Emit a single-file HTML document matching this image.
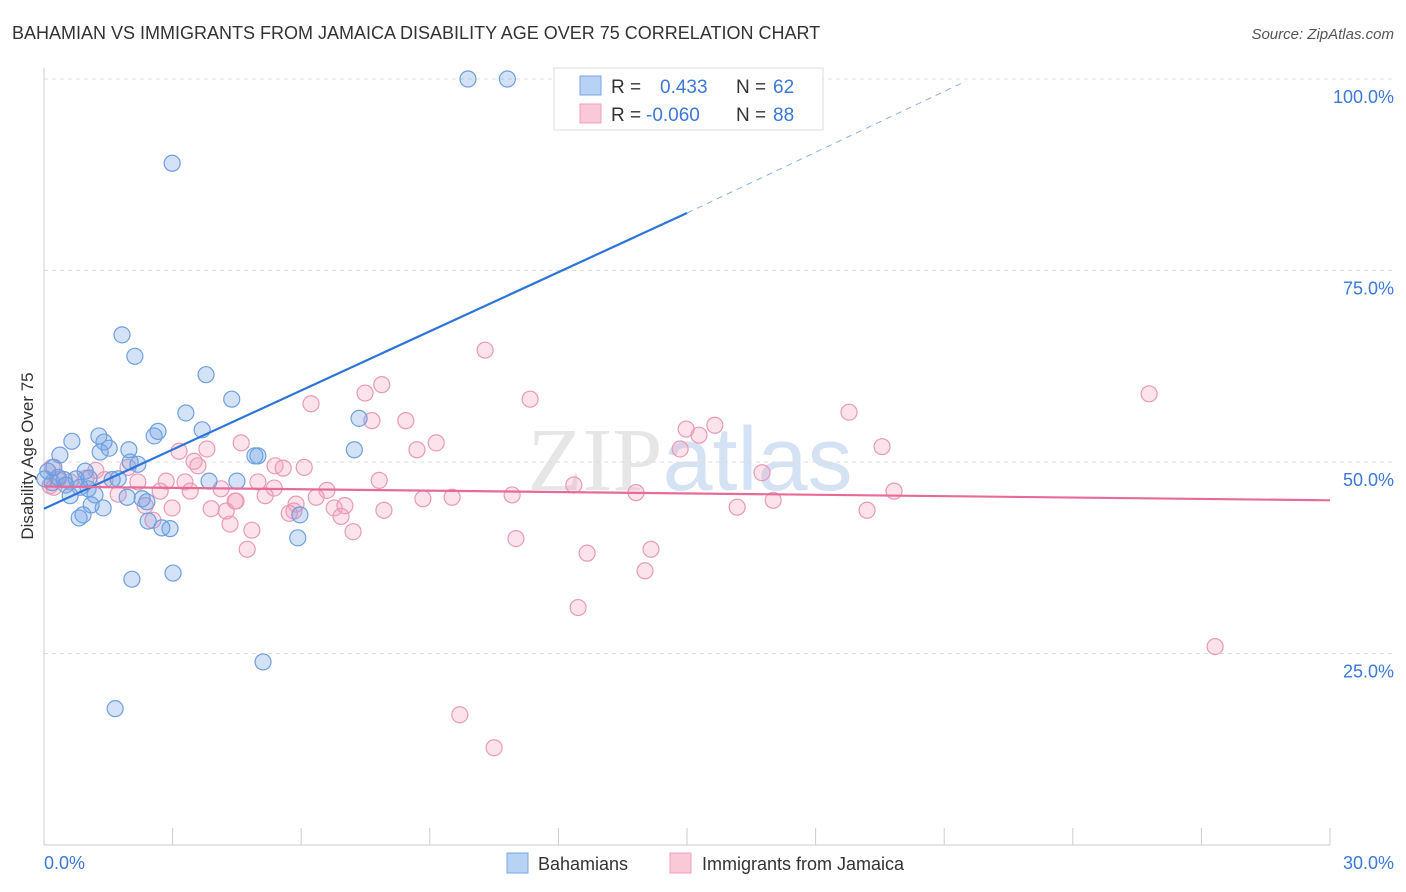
<!DOCTYPE html>
<html><head><meta charset="utf-8"><style>
body{margin:0;background:#fff;font-family:"Liberation Sans",sans-serif;}
svg{display:block}
</style></head><body>
<svg id="c" width="1406" height="892">
<text x="12" y="39" font-size="18" fill="#333">BAHAMIAN VS IMMIGRANTS FROM JAMAICA DISABILITY AGE OVER 75 CORRELATION CHART</text>
<text x="1394" y="39" font-size="15" fill="#555" font-style="italic" text-anchor="end">Source: ZipAtlas.com</text>
<text x="690" y="490" font-size="90" fill="#e6e6e6" text-anchor="middle" font-family="Liberation Serif">ZIP<tspan fill="#d4e2f4" font-family="Liberation Sans">atlas</tspan></text>
<g id="grid"></g><g id="axes"></g><g id="pts"></g><g id="lines"></g>
<text transform="translate(33,456) rotate(-90)" font-size="17" fill="#333" text-anchor="middle">Disability Age Over 75</text>
<text x="44" y="869" font-size="18" fill="#3b78d8">0.0%</text>
<text x="1394" y="869" font-size="18" fill="#3b78d8" text-anchor="end">30.0%</text>
<g>
<rect x="554" y="68" width="269" height="62" fill="#fff" stroke="#ddd"/>
<rect x="580" y="76" width="21" height="19" fill="#b8d2f4" stroke="#7aa6e4"/>
<rect x="580" y="104" width="21" height="19" fill="#f9c9d8" stroke="#ec9fba"/>
<text x="611" y="93" font-size="19" fill="#333">R =  <tspan fill="#3b78d8" x="660">0.433</tspan><tspan x="736" fill="#333">N = </tspan><tspan fill="#3b78d8" x="773">62</tspan></text>
<text x="611" y="121" font-size="19" fill="#333">R = <tspan fill="#3b78d8" x="646">-0.060</tspan><tspan x="736" fill="#333">N = </tspan><tspan fill="#3b78d8" x="773">88</tspan></text>
</g>
<g>
<rect x="507" y="853" width="21" height="20" fill="#b8d2f4" stroke="#7aa6e4"/>
<text x="538" y="870" font-size="18" fill="#333">Bahamians</text>
<rect x="670" y="853" width="21" height="20" fill="#f9c9d8" stroke="#ec9fba"/>
<text x="702" y="870" font-size="18" fill="#333">Immigrants from Jamaica</text>
</g>
</svg>
<script>
const yTicks=[25,50,75,100];
const xTicks=[0,3,6,9,12,15,18,21,24,27,30];
const blueX=[9.89,10.81,2.99,1.82,2.12,3.78,4.38,3.31,7.35,2.66,3.69,2.57,0.65,1.28,1.40,1.52,1.31,1.98,7.24,4.92,4.99,0.37,2.01,2.19,0.23,0.09,0.96,0.33,0.47,0.75,1.05,1.73,1.59,4.50,3.85,0.19,0.51,0.02,1.03,0.84,0.61,1.19,1.94,2.29,2.40,1.10,1.38,0.91,0.82,5.97,2.43,2.75,2.94,5.92,2.05,3.01,5.11,1.66];
const blueY=[100,100,89.0,66.6,63.8,61.4,58.2,56.4,55.7,54.0,54.2,53.4,52.7,53.4,52.6,51.8,51.3,51.6,51.6,50.8,50.8,50.9,50.0,49.7,49.3,48.8,48.8,48.0,47.7,47.8,47.9,47.8,47.7,47.5,47.5,47.3,47.0,47.8,46.5,46.7,45.6,45.7,45.4,45.2,44.8,44.4,44.0,43.1,42.7,43.1,42.3,41.4,41.3,40.1,34.7,35.5,23.9,17.8];
const pinkX=[10.29,7.88,7.49,11.34,6.23,18.78,25.78,7.65,8.44,15.65,14.98,15.28,9.15,4.60,8.70,3.80,3.15,19.55,14.84,3.50,3.59,5.39,6.07,5.58,1.96,1.21,0.19,16.75,0.98,0.33,0.61,1.42,2.19,2.85,3.29,4.99,7.82,6.60,5.37,2.71,4.13,3.41,1.73,0.14,0.23,12.36,13.81,19.83,10.92,9.52,8.84,6.35,5.16,4.46,5.88,17.01,4.48,2.99,3.90,4.25,2.36,5.83,6.77,7.02,7.93,6.93,5.72,16.17,19.20,2.54,4.34,4.85,7.21,11.01,14.16,4.74,12.67,14.02,12.46,27.32,9.70,10.50];
const pinkY=[64.6,60.1,59.0,58.2,57.6,56.5,58.9,55.4,55.4,54.8,54.3,53.5,52.5,52.5,51.6,51.7,51.4,52.0,51.7,50.1,49.5,49.5,49.3,49.2,49.3,48.9,49.3,48.6,47.9,47.7,47.4,47.7,47.4,47.5,47.4,47.4,47.6,46.3,46.6,46.2,46.5,46.2,45.8,46.9,46.7,47.0,46.0,46.2,45.7,45.4,45.2,45.4,45.6,44.9,44.5,45.0,44.9,44.0,43.9,43.6,44.3,43.6,44.0,44.3,43.7,42.9,43.3,44.1,43.7,42.4,41.9,41.1,40.9,40.0,38.6,38.6,38.1,35.8,31.0,25.9,17.0,12.7];
const blueTrend=[0,43.9,15,82.5], blueDash=[15,82.5,21.5,99.7];
const pinkTrend=[0,46.8,30,45.0];
const NS="http://www.w3.org/2000/svg";
const X=v=>44+v/30*1286, Y=v=>845-v/100*766;
function mk(t,p,a){const e=document.createElementNS(NS,t);for(const k in a)e.setAttribute(k,a[k]);p.appendChild(e);return e;}
const grid=document.getElementById('grid'),axes=document.getElementById('axes'),pts=document.getElementById('pts'),lines=document.getElementById('lines');
yTicks.forEach(t=>{
 const l=mk('line',grid,{x1:44,x2:1392,y1:Y(t),y2:Y(t),stroke:'#ddd','stroke-dasharray':'4,4'});
 
 
 const tx=mk('text',grid,{x:1394,y:Y(t)+24,'font-size':18,fill:'#3b78d8','text-anchor':'end'});
 tx.textContent=t.toFixed(1)+'%';
 
 
});
mk('line',axes,{x1:44,x2:44,y1:68,y2:845,stroke:'#ccc'});
const xa=mk('line',axes,{x1:44,x2:1330,y1:845,y2:845,stroke:'#ccc'});


xTicks.forEach(t=>{const k=mk('line',axes,{x1:X(t),x2:X(t),y1:828,y2:845,stroke:'#ccc'});
 
 });
function dots(xs,ys,fill,stroke,name){xs.forEach((x,i)=>{const c=mk('circle',pts,{cx:X(x),cy:Y(ys[i]),r:8,fill:fill,stroke:stroke,'stroke-width':1.2});
 
 });}
dots(pinkX,pinkY,'rgba(244,160,190,0.3)','#e99ab6','jamaica-point');
dots(blueX,blueY,'rgba(110,160,230,0.3)','#6e9fe0','bahamian-point');
let l1=mk('line',lines,{x1:X(blueTrend[0]),y1:Y(blueTrend[1]),x2:X(blueTrend[2]),y2:Y(blueTrend[3]),stroke:'#2d74d8','stroke-width':2.2});


let l2=mk('line',lines,{x1:X(blueDash[0]),y1:Y(blueDash[1]),x2:X(blueDash[2]),y2:Y(blueDash[3]),stroke:'#8ab0e6','stroke-width':1,'stroke-dasharray':'6,5'});


let l3=mk('line',lines,{x1:X(pinkTrend[0]),y1:Y(pinkTrend[1]),x2:X(pinkTrend[2]),y2:Y(pinkTrend[3]),stroke:'#e76b98','stroke-width':2.2});


</script>
</body></html>
